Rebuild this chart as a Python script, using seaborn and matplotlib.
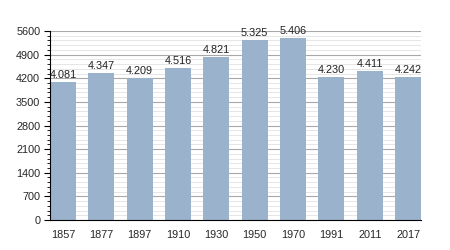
import matplotlib
matplotlib.use("Agg")
import matplotlib.pyplot as plt
import seaborn as sns
import pandas as pd
from matplotlib.ticker import MultipleLocator

years = ["1857", "1877", "1897", "1910", "1930", "1950", "1970", "1991", "2011", "2017"]
population = [4081, 4347, 4209, 4516, 4821, 5325, 5406, 4230, 4411, 4242]
labels = ["4.081", "4.347", "4.209", "4.516", "4.821", "5.325", "5.406", "4.230", "4.411", "4.242"]

df = pd.DataFrame({"year": years, "pop": population})

sns.set_theme(style="white")
plt.rcParams['font.family'] = ['Liberation Sans', 'DejaVu Sans']

fig = plt.figure(figsize=(4.5, 2.5), dpi=100)
ax = fig.add_axes([0.111, 0.12, 0.825, 0.756])

ax.yaxis.set_major_locator(MultipleLocator(700))
ax.yaxis.set_minor_locator(MultipleLocator(140))
ax.grid(which="major", axis="y", color="#a8a8a8", linewidth=0.8)
ax.grid(which="minor", axis="y", color="#e2e2e2", linewidth=0.6)
ax.set_axisbelow(True)

sns.barplot(data=df, x="year", y="pop", color="#9ab2cc", saturation=1, width=0.68,
            edgecolor="none", linewidth=0, ax=ax)

for i, (v, t) in enumerate(zip(population, labels)):
    ax.text(i, v + 60, t, ha="center", va="bottom", fontsize=7.8, color="#222222")

ax.set_ylim(0, 5600)
ax.set_xlim(-0.34, len(years) - 1 + 0.34)
ax.set_xlabel("")
ax.set_ylabel("")
for s in ["top", "right"]:
    ax.spines[s].set_visible(False)
ax.spines["left"].set_color("black")
ax.spines["bottom"].set_color("black")
ax.spines["left"].set_linewidth(0.8)
ax.spines["bottom"].set_linewidth(0.8)
ax.tick_params(axis="y", which="major", left=True, length=4, width=0.8, color="black", labelsize=7.8, pad=3)
ax.tick_params(axis="y", which="minor", left=True, length=2, width=0.6, color="black")
ax.tick_params(axis="x", bottom=False, labelsize=7.8, pad=1)

fig.savefig("out.png", dpi=100)
